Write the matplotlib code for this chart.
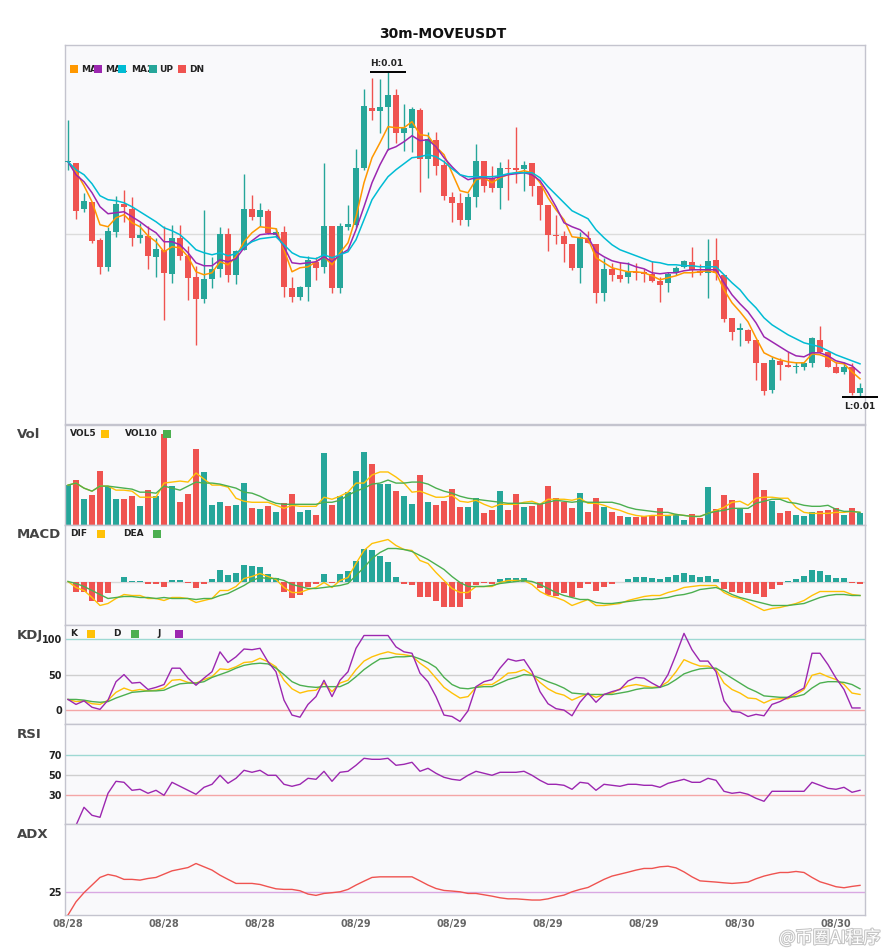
import numpy as np
import matplotlib
matplotlib.use("Agg")
import matplotlib.pyplot as plt
from matplotlib.patches import Rectangle
import matplotlib.patheffects as pe

# ---- data (prices in 1e-5 USDT, 30m candles) ----
open_e5 = [838, 837, 791, 798, 760, 733, 768, 796, 791, 762,
           764, 743, 750, 726, 762, 744, 723, 701, 721, 731,
           766, 725, 750, 791, 783, 789, 765, 768, 712, 703,
           713, 738, 733, 774, 712, 773, 775, 832, 892, 889,
           893, 905, 867, 872, 890, 841, 860, 835, 803, 797,
           780, 803, 839, 822, 812, 832, 832, 831, 837, 814,
           795, 765, 764, 756, 732, 762, 756, 707, 731, 725,
           723, 728, 728, 726, 719, 717, 727, 733, 738, 729,
           727, 740, 725, 682, 670, 670, 660, 637, 610, 639,
           635, 633, 633, 637, 660, 648, 633, 628, 633, 607]
high_e5 = [880, 837, 807, 798, 762, 773, 804, 810, 803, 777,
           774, 762, 774, 775, 775, 754, 734, 790, 743, 773,
           772, 750, 826, 805, 797, 791, 772, 774, 723, 714,
           744, 743, 837, 774, 777, 795, 851, 911, 922, 921,
           928, 911, 896, 893, 892, 868, 868, 840, 808, 807,
           807, 856, 839, 834, 838, 841, 873, 839, 837, 814,
           795, 785, 769, 756, 768, 769, 756, 742, 737, 738,
           738, 737, 731, 739, 723, 728, 734, 740, 753, 736,
           761, 762, 725, 682, 677, 671, 660, 637, 643, 642,
           648, 638, 638, 663, 674, 648, 638, 638, 637, 617]
low_e5 = [830, 781, 788, 757, 726, 729, 763, 778, 754, 757,
          731, 723, 680, 717, 740, 700, 655, 697, 712, 723,
          718, 716, 750, 780, 774, 766, 763, 703, 698, 700,
          699, 720, 727, 707, 707, 770, 773, 830, 880, 867,
          850, 857, 849, 848, 808, 822, 825, 800, 778, 775,
          774, 793, 808, 808, 791, 800, 817, 809, 804, 780,
          749, 756, 738, 730, 717, 757, 697, 699, 719, 718,
          717, 720, 718, 718, 698, 708, 725, 732, 723, 725,
          702, 720, 678, 660, 654, 657, 620, 605, 607, 620,
          633, 627, 630, 633, 647, 633, 627, 626, 605, 603]
close_e5 = [839, 789, 799, 759, 733, 769, 796, 793, 762, 765,
            744, 751, 727, 762, 744, 722, 701, 721, 731, 766,
            725, 749, 791, 783, 790, 767, 768, 713, 703, 713,
            740, 732, 774, 712, 774, 776, 832, 894, 889, 893,
            905, 867, 872, 891, 841, 861, 834, 804, 797, 780,
            803, 839, 814, 812, 832, 831, 830, 835, 814, 795,
            765, 764, 756, 732, 763, 757, 707, 731, 725, 721,
            728, 727, 726, 719, 715, 726, 732, 739, 730, 727,
            739, 727, 681, 668, 672, 659, 637, 609, 640, 635,
            633, 634, 637, 662, 648, 633, 627, 633, 607, 612]
ma5_e5 = [838, 828, 814, 798, 775, 773, 782, 785, 777, 773,
          764, 758, 748, 753, 752, 743, 728, 725, 727, 738,
          735, 743, 758, 767, 773, 772, 771, 750, 728, 732,
          733, 738, 743, 735, 747, 757, 783, 817, 842, 857,
          873, 872, 872, 878, 865, 864, 853, 845, 827, 809,
          807, 820, 822, 817, 822, 825, 827, 829, 827, 817,
          802, 790, 780, 763, 762, 761, 742, 737, 732, 730,
          728, 728, 727, 724, 720, 722, 724, 727, 727, 728,
          729, 727, 710, 697, 688, 678, 662, 647, 643, 640,
          638, 637, 637, 646, 645, 642, 637, 636, 628, 621]
ma10_e5 = [838, 825, 818, 807, 793, 786, 787, 788, 783, 778,
           772, 767, 758, 758, 755, 747, 737, 734, 734, 740,
           738, 741, 752, 759, 765, 766, 766, 753, 737, 736,
           737, 738, 743, 738, 745, 750, 770, 793, 817, 835,
           850, 853, 858, 864, 859, 860, 853, 842, 833, 825,
           820, 822, 822, 821, 823, 825, 826, 827, 825, 819,
           807, 793, 777, 773, 770, 763, 748, 743, 739, 737,
           736, 733, 731, 727, 726, 727, 727, 729, 730, 730,
           730, 730, 717, 705, 696, 688, 677, 663, 658, 653,
           648, 644, 643, 647, 647, 644, 639, 637, 634, 627]
ma20_e5 = [838, 830, 825, 816, 804, 800, 799, 797, 793, 788,
           783, 778, 772, 769, 765, 758, 750, 747, 745, 747,
           744, 746, 753, 758, 761, 762, 763, 755, 747, 743,
           742, 741, 745, 742, 745, 748, 760, 780, 800, 812,
           823, 830, 836, 842, 843, 845, 843, 838, 831, 825,
           823, 823, 823, 823, 824, 826, 827, 827, 827, 822,
           813, 805, 797, 789, 785, 781, 770, 762, 755, 750,
           747, 744, 741, 738, 737, 735, 735, 734, 734, 733,
           733, 733, 725, 717, 710, 700, 692, 682, 675, 670,
           665, 661, 657, 655, 653, 649, 645, 642, 639, 636]

volume = [39, 44, 25, 29, 53, 38, 25, 25, 28, 18,
          34, 28, 90, 38, 22, 30, 75, 52, 19, 22,
          18, 19, 41, 16, 15, 18, 12, 21, 30, 12,
          14, 9, 71, 19, 28, 32, 53, 72, 60, 40,
          40, 33, 28, 20, 49, 22, 19, 23, 35, 17,
          17, 26, 11, 14, 33, 14, 30, 17, 18, 20,
          38, 26, 22, 16, 31, 12, 26, 17, 12, 8,
          7, 7, 8, 8, 16, 8, 9, 4, 10, 6,
          37, 15, 29, 24, 16, 11, 51, 34, 23, 11,
          13, 9, 8, 12, 13, 14, 16, 9, 16, 11]
vol5 = [39, 41, 36, 33, 38, 38, 34, 34, 33, 27,
        27, 27, 41, 42, 43, 42, 51, 45, 39, 39,
        37, 26, 23, 22, 22, 22, 19, 16, 19, 18,
        18, 18, 27, 25, 28, 32, 41, 41, 49, 52,
        52, 47, 41, 32, 33, 30, 27, 27, 29, 23,
        22, 24, 20, 17, 20, 20, 20, 22, 23, 20,
        25, 25, 25, 24, 26, 21, 21, 19, 16, 14,
        11, 9, 8, 9, 9, 9, 10, 9, 8, 8,
        11, 14, 17, 22, 23, 19, 26, 27, 27, 26,
        26, 17, 12, 11, 11, 11, 12, 12, 13, 12]
vol10 = [39, 41, 36, 33, 38, 38, 37, 36, 35, 32,
         32, 31, 38, 36, 34, 38, 42, 41, 41, 40,
         38, 36, 32, 31, 28, 24, 21, 20, 20, 20,
         20, 20, 22, 22, 24, 29, 33, 36, 40, 41,
         44, 41, 41, 42, 42, 40, 36, 33, 31, 28,
         26, 25, 24, 23, 22, 21, 21, 21, 21, 20,
         22, 24, 23, 22, 23, 22, 22, 22, 22, 20,
         17, 15, 14, 13, 12, 12, 10, 9, 8, 8,
         11, 13, 14, 16, 16, 16, 21, 23, 25, 25,
         22, 21, 19, 18, 18, 19, 15, 13, 13, 12]

macd_hist = [0, -10, -10, -19, -20, -11, 0, 5, 1, 1,
             -2, -2, -5, 2, 2, -1, -6, -2, 3, 12,
             7, 9, 17, 16, 15, 8, 4, -10, -16, -13,
             -5, -2, 8, -1, 8, 11, 21, 33, 32, 26,
             20, 5, -2, -3, -15, -15, -19, -25, -25, -25,
             -17, -3, -1, -2, 3, 4, 4, 4, 0, -6,
             -13, -14, -11, -15, -6, -2, -9, -5, -2, 0,
             3, 5, 5, 4, 3, 5, 7, 9, 7, 5,
             6, 3, -7, -10, -11, -11, -12, -15, -7, -3,
             1, 3, 6, 12, 11, 7, 4, 4, -1, -2]
dif = [0, -6, -9, -16, -24, -22, -17, -13, -14, -14,
       -17, -17, -19, -16, -16, -17, -21, -19, -17, -9,
       -9, -5, 3, 5, 8, 5, 2, -6, -11, -11,
       -8, -6, -1, -6, 1, 4, 18, 31, 38, 40,
       42, 36, 32, 31, 21, 18, 9, 1, -7, -11,
       -11, -5, -5, -5, -1, 1, 1, 1, -3, -10,
       -14, -16, -19, -24, -21, -18, -24, -24, -23, -22,
       -19, -17, -15, -14, -14, -11, -9, -6, -5, -4,
       -4, -4, -11, -15, -17, -21, -25, -29, -27, -26,
       -24, -22, -19, -14, -10, -10, -10, -10, -13, -14]
dea = [0, -2, -5, -9, -13, -17, -16, -15, -15, -16,
       -16, -17, -16, -17, -17, -17, -18, -17, -17, -14,
       -12, -8, -4, 1, 4, 3, 3, 1, -3, -5,
       -7, -7, -6, -5, -4, -2, 6, 14, 23, 29,
       33, 33, 32, 30, 26, 22, 17, 12, 5, -1,
       -5, -5, -5, -4, -2, -1, 0, 1, 0, -3,
       -7, -11, -14, -16, -18, -18, -21, -22, -22, -21,
       -20, -19, -18, -18, -17, -16, -14, -13, -11, -8,
       -7, -6, -9, -13, -16, -18, -20, -22, -24, -24,
       -24, -23, -22, -19, -16, -14, -13, -13, -14, -14]

k_line = [15, 12, 13, 9, 8, 14, 25, 31, 27, 29,
          27, 28, 31, 42, 43, 39, 38, 43, 47, 58,
          57, 61, 67, 68, 73, 68, 61, 42, 30, 24,
          27, 28, 38, 26, 38, 42, 57, 69, 75, 79,
          82, 79, 78, 76, 66, 58, 45, 32, 24, 17,
          19, 32, 36, 36, 43, 52, 53, 57, 50, 39,
          30, 24, 21, 14, 19, 23, 18, 22, 24, 30,
          34, 36, 34, 32, 33, 40, 54, 71, 66, 62,
          62, 57, 38, 29, 24, 17, 16, 10, 15, 16,
          16, 22, 29, 49, 52, 47, 43, 36, 24, 22]
d_line = [15, 15, 14, 12, 11, 12, 17, 21, 25, 26,
          27, 27, 28, 33, 37, 38, 38, 40, 46, 50,
          54, 59, 63, 65, 66, 65, 59, 50, 40, 35,
          33, 32, 33, 33, 33, 38, 47, 57, 65, 72,
          73, 75, 75, 76, 72, 67, 60, 46, 36, 31,
          30, 32, 33, 33, 38, 43, 46, 50, 49, 45,
          40, 36, 31, 24, 23, 22, 22, 22, 22, 24,
          26, 29, 31, 31, 32, 36, 43, 51, 55, 58,
          59, 59, 52, 45, 38, 31, 26, 20, 19, 18,
          18, 19, 22, 31, 38, 40, 40, 39, 36, 30]
j_line = [15, 8, 13, 4, 1, 14, 40, 50, 38, 39,
          29, 32, 36, 59, 59, 45, 35, 45, 54, 82,
          67, 75, 86, 85, 87, 68, 54, 14, -7, -10,
          8, 19, 42, 19, 42, 54, 87, 105, 105, 105,
          105, 89, 82, 80, 52, 40, 19, -7, -9, -16,
          -1, 33, 40, 43, 59, 72, 69, 71, 54, 26,
          9, 2, 0, -8, 11, 24, 11, 22, 26, 29,
          41, 46, 45, 38, 32, 50, 78, 108, 85, 69,
          69, 54, 13, -2, -3, -9, -6, -8, 8, 12,
          18, 25, 31, 80, 80, 64, 45, 29, 3, 3]
rsi = [np.nan, 0, 18, 10, 8, 32, 44, 43, 35, 36,
       32, 35, 30, 43, 39, 35, 31, 38, 41, 50,
       42, 47, 55, 53, 55, 50, 50, 41, 39, 41,
       47, 46, 54, 44, 53, 54, 60, 67, 66, 66,
       67, 60, 61, 63, 54, 57, 52, 48, 46, 45,
       50, 54, 52, 50, 53, 53, 53, 54, 50, 45,
       41, 41, 40, 36, 43, 42, 35, 41, 40, 39,
       41, 41, 40, 40, 38, 42, 44, 46, 43, 43,
       47, 45, 34, 32, 33, 31, 27, 24, 34, 34,
       34, 34, 34, 43, 40, 37, 36, 38, 33, 35]
adx = [9.9, 18.7, 24.8, 29.9, 35.0, 37.0, 35.9, 33.7, 33.7, 33.2,
       34.3, 35.0, 37.2, 39.4, 40.5, 41.6, 44.3, 42.1, 39.9, 36.5,
       33.7, 31.0, 31.0, 31.0, 30.3, 28.8, 27.4, 27.0, 27.0, 26.1,
       23.9, 23.0, 24.3, 24.8, 25.4, 27.0, 29.9, 32.5, 35.0, 35.4,
       35.4, 35.4, 35.4, 35.4, 32.7, 29.9, 27.6, 26.3, 25.9, 25.4,
       24.3, 24.3, 23.4, 22.5, 21.4, 20.7, 20.7, 20.3, 19.9, 19.9,
       20.7, 22.1, 23.2, 25.4, 27.0, 28.3, 31.0, 33.7, 35.9, 37.2,
       38.5, 39.9, 41.0, 41.0, 42.1, 42.5, 41.4, 38.7, 35.4, 32.7,
       32.3, 31.9, 31.4, 31.0, 31.4, 31.9, 34.1, 35.9, 37.2, 38.3,
       38.3, 39.0, 38.3, 35.0, 32.1, 30.5, 28.8, 28.1, 29.0, 29.7]

tick_pos = [0, 12, 24, 36, 48, 60, 72, 84, 96]
tick_labels = ["08/28", "08/28", "08/28", "08/29", "08/29",
               "08/29", "08/29", "08/30", "08/30"]
kdj_levels = [0, 50, 100]
rsi_levels = [30, 50, 70]
adx_levels = [25]

# ---- colours ----
UP, DN = "#26A69A", "#EF5350"
C_MA5, C_MA10, C_MA20 = "#FF9800", "#9C27B0", "#00BCD4"
YEL, GRN, PUR = "#FFC107", "#4CAF50", "#9C27B0"
BG = "#F9F9FB"
EDGE = "#c4c4ce"

unit = 1e-5
o = np.array(open_e5) * unit
h = np.array(high_e5) * unit
l = np.array(low_e5) * unit
c = np.array(close_e5) * unit
x = np.arange(len(o))
up = c >= o
cols = np.where(up, UP, DN)

W, H = 885, 950
fig = plt.figure(figsize=(W / 100, H / 100), dpi=100)
fig.patch.set_facecolor("white")


def add_panel(top, bottom):
    ax = fig.add_axes([65 / W, 1 - bottom / H, 800 / W, (bottom - top) / H])
    ax.set_facecolor(BG)
    for s in ax.spines.values():
        s.set_color(EDGE)
        s.set_linewidth(1.0)
    ax.set_xlim(-0.375, len(x) - 0.375)
    ax.tick_params(axis="both", length=0, pad=2, labelsize=7, labelcolor="#222")
    ax.set_xticks([])
    return ax


def bold_ticks(ax):
    for t in ax.get_yticklabels() + ax.get_xticklabels():
        t.set_fontweight("bold")


def legend(items, y, boxed=False):
    # items: (label, text_x, square_x, colour) in pixels; later items sit on top
    for n, (label, tx, sx, col) in enumerate(items):
        box = dict(boxstyle="square,pad=0.45", fc=BG, ec="none") if boxed else None
        fig.text(tx / W, 1 - y / H, label, fontsize=6.5, fontweight="bold",
                 color="#222", va="center", ha="left", zorder=5 + 2 * n, bbox=box)
        fig.add_artist(Rectangle((sx / W, 1 - (y + 4) / H), 8 / W, 8 / H,
                                 transform=fig.transFigure, facecolor=col,
                                 edgecolor="none", zorder=6 + 2 * n))


def panel_label(text, y):
    fig.text(17 / W, 1 - y / H, text, fontsize=9.5, fontweight="bold",
             color="#444", va="center", ha="left")


# ---- price panel ----
ax = add_panel(45, 423.5)
rng = h.max() - l.min()
ax.set_ylim(l.min() - 0.082 * rng, h.max() + 0.082 * rng)
lo, hi = ax.get_ylim()
ax.set_yticks([(lo + hi) / 2])
ax.set_yticklabels([])
ax.grid(axis="y", color="#dcdcdc", lw=1)
ax.set_axisbelow(True)
ax.vlines(x, l, h, colors=cols, lw=1, zorder=2)
ax.bar(x, np.maximum(np.abs(c - o), unit), bottom=np.minimum(o, c),
       width=0.75, color=cols, zorder=3)
ax.plot(x, np.array(ma5_e5) * unit, color=C_MA5, lw=1.1, zorder=4)
ax.plot(x, np.array(ma10_e5) * unit, color=C_MA10, lw=1.1, zorder=4)
ax.plot(x, np.array(ma20_e5) * unit, color=C_MA20, lw=1.1, zorder=4)

ih, il = int(np.argmax(h)), int(np.argmin(l))
ax.hlines(h[ih], ih - 2.25, ih + 2.25, color="black", lw=1.4, zorder=5)
ax.annotate(f"H:{h[ih]:.2f}", (ih - 0.2, h[ih]), xytext=(0, 2.5),
            textcoords="offset points", ha="center", va="bottom",
            fontsize=6.5, fontweight="bold", color="#222")
ax.hlines(l[il], il - 2.25, il + 2.25, color="black", lw=1.4, zorder=5,
          clip_on=False)
ax.annotate(f"L:{l[il]:.2f}", (il, l[il]), xytext=(0, -3.5),
            textcoords="offset points", ha="center", va="top",
            fontsize=6.5, fontweight="bold", color="#222", annotation_clip=False)
fig.text(0.5, 1 - 34 / H, "30m-MOVEUSDT", ha="center", va="center",
         fontsize=10, fontweight="bold", color="#111")
legend([("MA5", 81, 70, C_MA5), ("MA10", 105, 94, C_MA10),
        ("MA20", 131, 118, C_MA20), ("UP", 159, 149, UP),
        ("DN", 189, 178, DN)], 69, boxed=True)

# ---- volume ----
axv = add_panel(424.5, 524.5)
vol = np.array(volume, dtype=float)
axv.set_ylim(0, vol.max() * 1.1)
axv.set_yticks([])
axv.bar(x, vol, width=0.75, color=cols, zorder=2)
axv.plot(x, vol5, color=YEL, lw=1, zorder=3)
axv.plot(x, vol10, color=GRN, lw=1, zorder=3)
panel_label("Vol", 435)
legend([("VOL5", 70, 101, YEL), ("VOL10", 125, 163, GRN)], 434)

# ---- MACD ----
axm = add_panel(524.5, 624.5)
axm.set_ylim(-43, 57)
axm.set_yticks([])
axm.axhline(0, color="#d8d8d8", lw=1, zorder=1)
hist = np.array(macd_hist, dtype=float)
axm.bar(x, hist, width=0.75, color=np.where(hist >= 0, UP, DN), zorder=2)
axm.plot(x, dif, color=YEL, lw=1, zorder=3)
axm.plot(x, dea, color=GRN, lw=1, zorder=3)
panel_label("MACD", 535)
legend([("DIF", 70, 97, YEL), ("DEA", 123, 153, GRN)], 533.5)

# ---- KDJ ----
axk = add_panel(624.5, 724.3)
axk.set_ylim(-20, 120.5)
axk.set_yticks(kdj_levels)
for lv, col in zip(kdj_levels, ["#F4A6A6", "#cfcfcf", "#9ED9D3"]):
    axk.axhline(lv, color=col, lw=1, zorder=1)
axk.plot(x, k_line, color=YEL, lw=1, zorder=3)
axk.plot(x, d_line, color=GRN, lw=1, zorder=3)
axk.plot(x, j_line, color=PUR, lw=1, zorder=3)
bold_ticks(axk)
panel_label("KDJ", 635)
legend([("K", 70, 87, YEL), ("D", 113, 131, GRN), ("J", 157, 175, PUR)], 634)

# ---- RSI ----
axr = add_panel(724.3, 824.3)
axr.set_ylim(1, 101)
axr.set_yticks(rsi_levels)
for lv, col in zip(rsi_levels, ["#F4A6A6", "#cfcfcf", "#9ED9D3"]):
    axr.axhline(lv, color=col, lw=1, zorder=1)
axr.plot(x, rsi, color=PUR, lw=1, zorder=3)
bold_ticks(axr)
panel_label("RSI", 735)

# ---- ADX ----
axa = add_panel(824.3, 915)
axa.set_ylim(9.9, 70.5)
axa.set_yticks(adx_levels)
axa.axhline(adx_levels[0], color="#D9A8E2", lw=1, zorder=1)
axa.plot(x, adx, color="#EF5350", lw=1, zorder=3)
axa.set_xticks(tick_pos)
axa.set_xticklabels(tick_labels)
axa.tick_params(axis="x", labelcolor="#666", pad=3)
bold_ticks(axa)
panel_label("ADX", 835)

# watermark (kept below the date labels)
fig.text(0.995, 1 - 938 / H, "@币圈AI程序", ha="right", va="center",
         fontsize=12.5, color="white",
         family=["Noto Sans CJK SC", "DejaVu Sans"],
         path_effects=[pe.withStroke(linewidth=1.5, foreground="#c4c4c4")],
         zorder=10)

fig.savefig("out.png", dpi=100)
